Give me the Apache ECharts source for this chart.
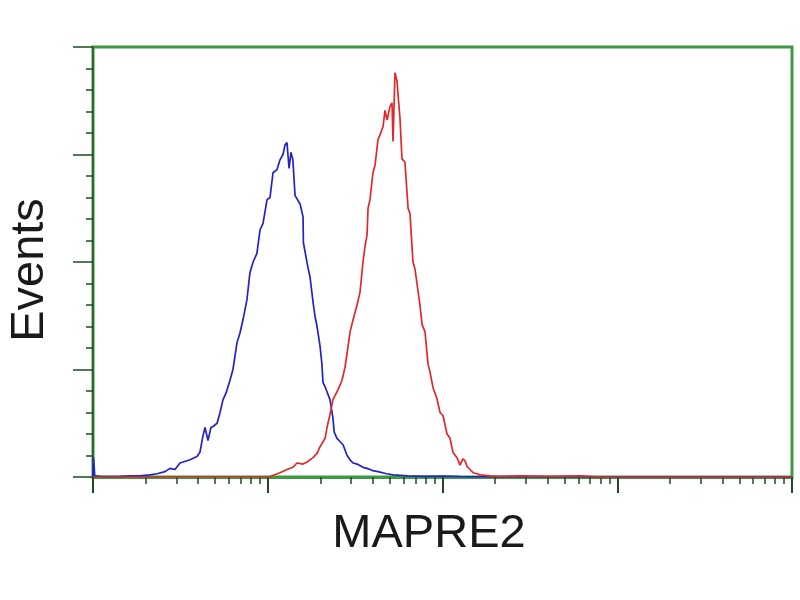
<!DOCTYPE html>
<html><head><meta charset="utf-8">
<script src="https://cdn.jsdelivr.net/npm/echarts@6/dist/echarts.min.js"></script>
<style>html,body{margin:0;padding:0;background:#fff}#c{width:800px;height:600px}</style>
</head><body><div id="c"></div>
<script>
// x values are log10 fluorescence intensity (decades 0..4), y values are event counts
const xTitle = 'MAPRE2';
const yTitle = 'Events';
const decadeTicks = [0, 1, 2, 3, 4];
const countTicks = [0, 100, 200, 300, 400];

const blueX = [0, 0.003, 0.010, 0.04, 0.10, 0.155, 0.22, 0.27, 0.326, 0.366, 0.412, 0.441, 0.469, 0.498, 0.555, 0.595, 0.612, 0.629, 0.641, 0.658, 0.675, 0.687, 0.710, 0.727, 0.744, 0.761, 0.784, 0.801, 0.824, 0.841, 0.858, 0.881, 0.898, 0.916, 0.938, 0.956, 0.973, 0.996, 1.013, 1.030, 1.053, 1.070, 1.087, 1.099, 1.110, 1.122, 1.133, 1.144, 1.156, 1.167, 1.185, 1.202, 1.204, 1.213, 1.230, 1.242, 1.259, 1.270, 1.282, 1.299, 1.310, 1.316, 1.328, 1.356, 1.373, 1.380, 1.396, 1.413, 1.431, 1.454, 1.471, 1.488, 1.511, 1.545, 1.568, 1.600, 1.631, 1.680, 1.717, 1.80, 1.90, 2.0, 2.1, 2.3, 2.6, 3.0, 4.0];
const blueY = [0, 18, 1, 0.5, 0.3, 0.5, 1, 1, 2, 3, 5, 8, 7, 13, 16, 19, 23, 38, 46, 34, 46, 47, 50, 60, 72, 78, 90, 100, 125, 134, 146, 165, 190, 200, 208, 230, 236, 258, 260, 283, 286, 295, 300, 309, 311, 287, 302, 295, 262, 262, 254, 242, 218, 210, 195, 186, 163, 150, 140, 122, 105, 88, 84, 72, 55, 42, 36, 33, 30, 20, 16, 13, 12, 9, 8, 6, 5, 3, 2, 1, 0.5, 0.8, 0.3, 0.2, 0, 0, 0];

const redX = [0, 1.0, 1.013, 1.070, 1.110, 1.144, 1.167, 1.202, 1.225, 1.259, 1.282, 1.299, 1.328, 1.339, 1.356, 1.373, 1.402, 1.425, 1.442, 1.454, 1.471, 1.488, 1.511, 1.528, 1.545, 1.557, 1.568, 1.574, 1.585, 1.602, 1.614, 1.631, 1.642, 1.660, 1.671, 1.683, 1.700, 1.711, 1.717, 1.722, 1.728, 1.740, 1.745, 1.757, 1.768, 1.785, 1.803, 1.814, 1.831, 1.843, 1.854, 1.871, 1.883, 1.900, 1.917, 1.928, 1.946, 1.968, 1.986, 2.003, 2.026, 2.043, 2.060, 2.083, 2.100, 2.117, 2.129, 2.140, 2.157, 2.175, 2.197, 2.215, 2.272, 2.329, 2.443, 2.615, 2.787, 2.901, 4.0];
const redY = [0, 0, 0.5, 4, 7, 9, 13, 12, 14, 18, 22, 28, 36, 46, 58, 72, 81, 90, 102, 115, 135, 146, 160, 172, 200, 215, 225, 250, 258, 283, 290, 314, 318, 326, 341, 332, 345, 348, 312, 340, 376, 368, 357, 333, 296, 293, 250, 245, 200, 193, 180, 160, 142, 135, 105, 98, 83, 73, 60, 57, 40, 36, 23, 18, 11, 17, 15, 10, 7, 4, 3, 2, 1, 0.5, 1, 0.5, 1, 0, 0];

const toPairs = (xs, ys) => xs.map((x, i) => [x, ys[i]]);
const minorTickValues = [];
for (let d = 0; d < 4; d++) for (let k = 2; k <= 9; k++) minorTickValues.push(d + Math.log10(k));

const green = '#3f9a44';
const dark = '#1f4a22';
const chart = echarts.init(document.getElementById('c'), null, {renderer: 'canvas'});
chart.setOption({
  animation: false,
  backgroundColor: '#ffffff',
  grid: {left: 93, right: 8, top: 47, bottom: 123, show: true, borderColor: green, borderWidth: 3, backgroundColor: 'transparent'},
  xAxis: [{
    type: 'value', min: decadeTicks[0], max: decadeTicks[decadeTicks.length - 1], interval: 1,
    axisLine: {show: true, lineStyle: {color: green, width: 3}},
    axisTick: {show: true, length: 16, lineStyle: {color: dark, width: 2}},
    axisLabel: {show: false}, splitLine: {show: false}
  }, {
    type: 'value', min: 0, max: 4, position: 'bottom', gridIndex: 0,
    axisLine: {show: false},
    axisTick: {show: true, length: 7, customValues: minorTickValues, lineStyle: {color: dark, width: 1.5}},
    axisLabel: {show: false}, splitLine: {show: false}
  }],
  yAxis: {
    type: 'value', min: countTicks[0], max: countTicks[countTicks.length - 1], interval: 100,
    axisLine: {show: true, lineStyle: {color: '#2a6a2e', width: 2}},
    axisTick: {show: true, length: 20, lineStyle: {color: dark, width: 1.5}},
    minorTick: {show: true, splitNumber: 5, length: 7, lineStyle: {color: dark, width: 1.5}},
    axisLabel: {show: false}, splitLine: {show: false}, minorSplitLine: {show: false}
  },
  series: [{
    type: 'line', name: 'control', data: toPairs(blueX, blueY), showSymbol: false,
    lineStyle: {color: '#2222c8', width: 1.7}, z: 3
  }, {
    type: 'line', name: 'MAPRE2', data: toPairs(redX, redY), showSymbol: false,
    lineStyle: {color: '#e02828', width: 1.7}, z: 4
  }],
  graphic: [{
    type: 'text', x: 429, y: 534,
    style: {text: xTitle, font: '47px "Liberation Sans", Arial, sans-serif', fill: '#1a1a1a', align: 'center', verticalAlign: 'middle'}
  }, {
    type: 'text', x: 30, y: 270, rotation: Math.PI / 2,
    style: {text: yTitle, font: '47px "Liberation Sans", Arial, sans-serif', fill: '#1a1a1a', align: 'center', verticalAlign: 'middle'}
  }]
});
</script></body></html>
